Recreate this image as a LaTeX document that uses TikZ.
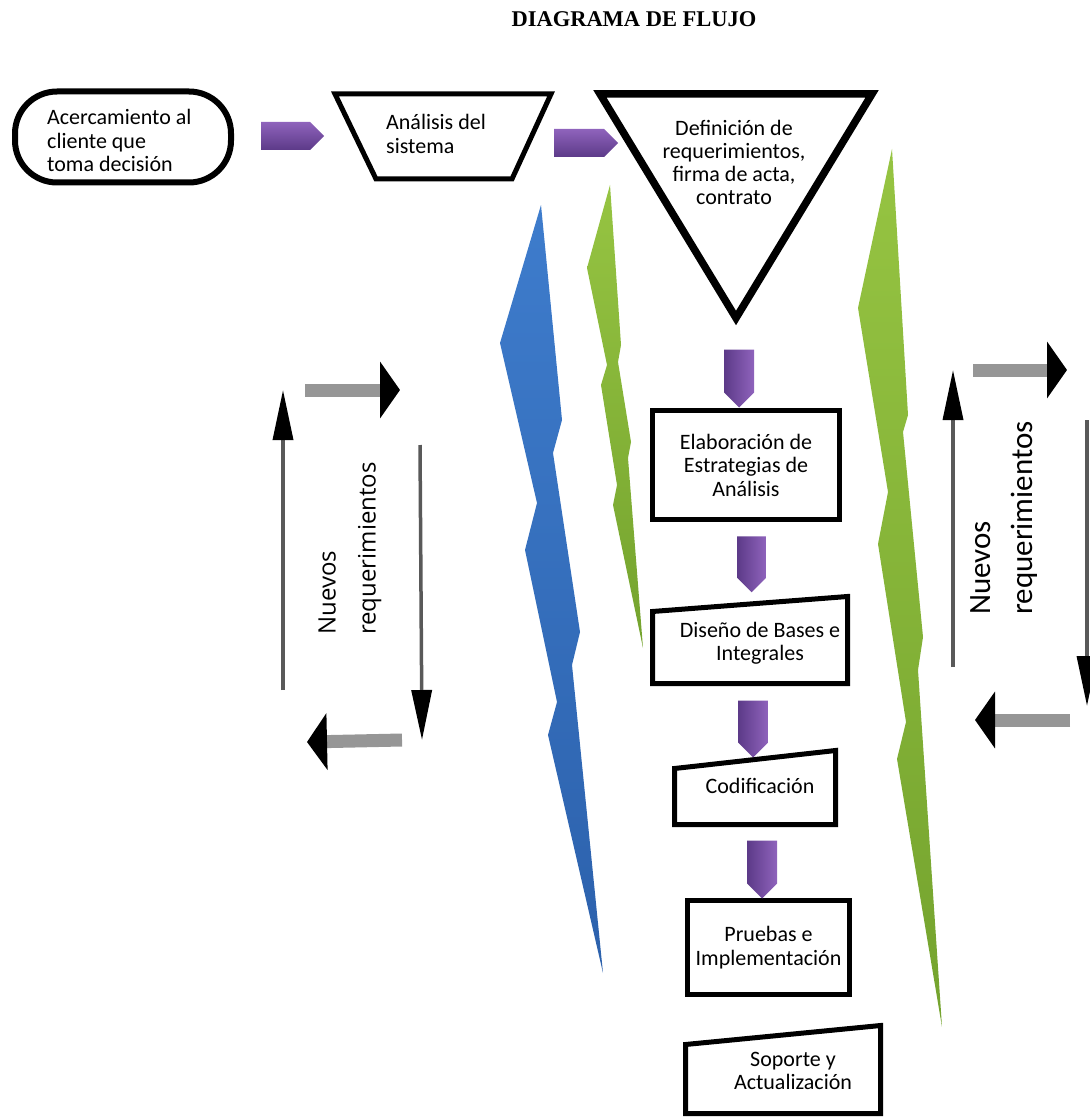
\documentclass[tikz,border=0pt]{standalone}
\usepackage{fontspec}
\setmainfont{Liberation Serif}
\newfontfamily\calibri{Carlito}
\newfontfamily\opensans{Open Sans}
\usepackage{tikz}
\usetikzlibrary{arrows.meta,shapes.arrows}
\definecolor{fl_purple_l}{RGB}{143,99,188}
\definecolor{fl_purple_d}{RGB}{92,58,136}
\definecolor{fl_blue}{RGB}{62,124,204}
\definecolor{fl_blue_d}{RGB}{44,97,172}
\definecolor{fl_green}{RGB}{150,196,66}
\definecolor{fl_green_d}{RGB}{116,163,46}
\definecolor{fl_gray}{RGB}{150,150,150}
\tikzstyle{caja}=[draw=black,line width=5pt,inner sep=0pt]
\tikzstyle{texto}=[font=\calibri\fontsize{22}{23.5}\selectfont,align=center,inner sep=0pt]
\tikzstyle{flecha}=[single arrow,single arrow head extend=0pt,single arrow tip angle=90,
  inner sep=0pt,draw=none,top color=fl_purple_l,bottom color=fl_purple_d]
\tikzstyle{flechabaja}=[flecha,rotate=-90,left color=fl_purple_d,right color=fl_purple_l]
\tikzstyle{delgada}=[line width=3.5pt,draw=black!65,-{Triangle[width=20pt,length=50pt,color=black]}]
\tikzstyle{gruesa}=[line width=13pt,draw=fl_gray,-{Triangle[width=56pt,length=20pt,color=black]}]

\begin{document}
\begin{tikzpicture}[x=1pt, y=-1pt]
        \useasboundingbox (0,0) rectangle (1089,1118);
        \node[font=\bfseries\fontsize{22.5}{22.5}\selectfont, inner sep=0pt] (titulo) at (634,19) {DIAGRAMA DE FLUJO};
        % rayos
        \shade[top color=fl_blue, bottom color=fl_blue_d] (541,205) -- (562,420) -- (553,453) -- (580,632) -- (572,665) -- (603,973)
          -- (548,735) -- (557,702) -- (525,550) -- (537,503) -- (500,343) -- cycle;
        \shade[top color=fl_green, bottom color=fl_green_d] (610,185) -- (621,345) -- (618,362) -- (631,442) -- (628,458) -- (643,648)
          -- (613,505) -- (617,485) -- (601,385) -- (607,365) -- (587,268) -- cycle;
        \shade[top color=fl_green, bottom color=fl_green_d] (892,149) -- (908,415) -- (903,432) -- (923,637) -- (918,670) -- (942,1027)
          -- (897,759) -- (906,722) -- (878,544) -- (888,492) -- (858,308) -- cycle;
        % cajas
        \node[caja, line width=6pt, rounded corners=42pt, minimum width=216pt, minimum height=91pt,
          texto, align=left, text width=150pt] (1) at (123,137) {};
        \node[texto, align=left, anchor=west] (1t) at (47,140.5) {Acercamiento al\\cliente que\\toma decisión};
        \draw[caja] (335,94) -- (551,94) -- (512,179) -- (376,179) -- cycle;
        \node[texto, align=left, anchor=west] (2) at (386,134) {Análisis del\\sistema};
        \draw[caja, line width=7.5pt] (600,94) -- (872,94) -- (736,318) -- cycle;
        \node[texto, font=\calibri\fontsize{22}{23}\selectfont] (3) at (734,162) {Definición de\\requerimientos,\\firma de acta,\\contrato};
        \node[caja, texto, minimum width=187pt, minimum height=109pt] (4) at (746,465) {Elaboración de\\Estrategias de\\Análisis};
        \draw[caja] (652.5,611.5) -- (847.5,596.5) -- (847.5,683.5) -- (652.5,683.5) -- cycle;
        \node[texto] (5) at (760,643) {Diseño de Bases e\\Integrales};
        \draw[caja] (674.5,768.5) -- (835.5,750.5) -- (835.5,824.5) -- (674.5,824.5) -- cycle;
        \node[texto] (6) at (760,786) {Codificación};
        \node[caja, texto, minimum width=162pt, minimum height=94pt] (7) at (768.5,947.5) {Pruebas e\\Implementación};
        \draw[caja] (685.5,1044.5) -- (880.5,1025.5) -- (880.5,1113.5) -- (685.5,1113.5) -- cycle;
        \node[texto] (8) at (793,1071) {Soporte y\\Actualización};
        % flechas moradas
        \node[flecha, minimum height=63pt, minimum width=28pt] (f1) at (285.5,136) {};
        \node[flecha, minimum height=64pt, minimum width=28pt] (f2) at (579,143) {};
        \node[flechabaja, minimum height=58pt, minimum width=30pt] (f3) at (739,371) {};
        \node[flechabaja, minimum height=56pt, minimum width=29pt] (f4) at (751.5,557) {};
        \node[flechabaja, minimum height=57pt, minimum width=30pt] (f5) at (753,721.5) {};
        \node[flechabaja, minimum height=58pt, minimum width=30pt] (f6) at (762,862) {};
        % nuevos requerimientos
        \coordinate (a1) at (283,690);
        \coordinate (a2) at (283,390);
        \coordinate (b1) at (305,390);
        \coordinate (b2) at (400,390);
        \coordinate (c1) at (420,445);
        \coordinate (c2) at (422,740);
        \coordinate (d1) at (402,740);
        \coordinate (d2) at (307,742);
        \draw[delgada] (a1) to (a2);
        \draw[gruesa] (b1) to (b2);
        \draw[delgada] (c1) to (c2);
        \draw[gruesa] (d1) to (d2);
        \node[rotate=90, anchor=west, align=left, inner sep=0pt,
          font=\opensans\fontsize{24}{40}\selectfont] (9) at (350,635) {Nuevos\\requerimientos};
        \coordinate (e1) at (953,667);
        \coordinate (e2) at (953,370);
        \coordinate (g1) at (973,370);
        \coordinate (g2) at (1067,370);
        \coordinate (h1) at (1087,420);
        \coordinate (h2) at (1087,706);
        \coordinate (k1) at (1070,720);
        \coordinate (k2) at (975,720);
        \draw[delgada] (e1) to (e2);
        \draw[gruesa] (g1) to (g2);
        \draw[delgada] (h1) to (h2);
        \draw[gruesa] (k1) to (k2);
        \node[rotate=90, anchor=west, align=left, inner sep=0pt,
          font=\calibri\fontsize{31}{42}\selectfont] (10) at (1004,615) {Nuevos\\requerimientos};
\end{tikzpicture}
\end{document}
